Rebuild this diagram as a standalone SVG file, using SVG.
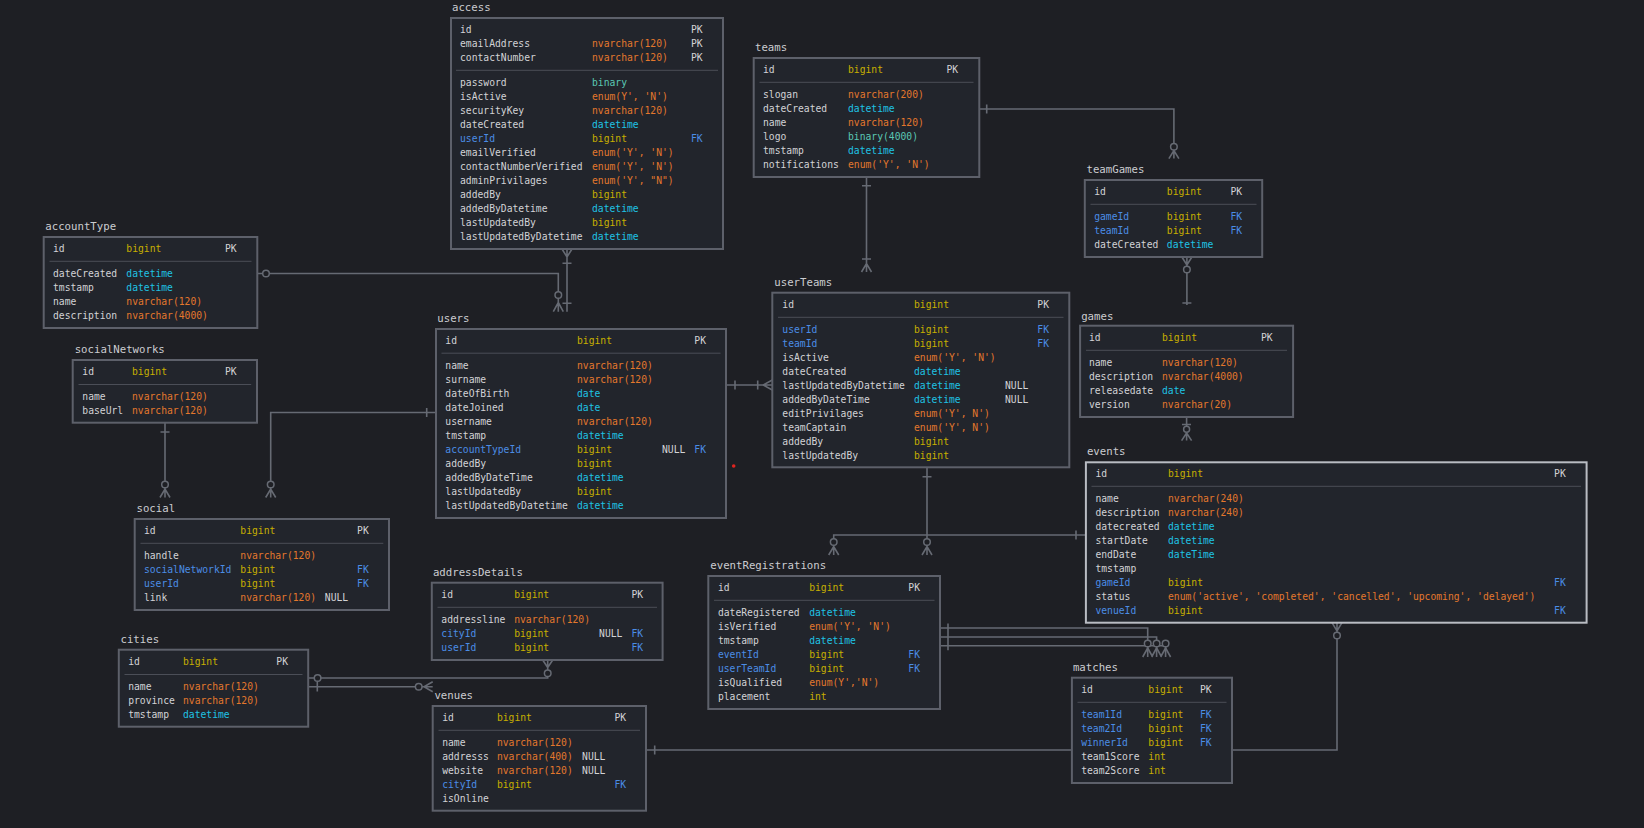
<svg xmlns="http://www.w3.org/2000/svg" width="1644" height="828" viewBox="0 0 1644 828">
<style>
text { font-family: "DejaVu Sans Mono", "Liberation Mono", monospace; font-size: 9.7px; }
.ttl { font-size: 10.7px; fill: #cbccd0; }
.n { fill: #d2d3d6; }
.fk { fill: #4b8de6; }
.ib { fill: #c8b000; }
.is { fill: #e4782c; }
.id { fill: #1fc3e4; }
.ibin { fill: #5ac8b4; }
.box { fill: #22252c; stroke: #5d606a; stroke-width: 2; }
.sel { stroke: #b9bcc3; }
.sep { stroke: #4b4e57; stroke-width: 1; }
.c { fill: none; stroke: #666a73; stroke-width: 1.6; }
.o { fill: #1e1f24; stroke: #666a73; stroke-width: 1.5; }
</style>
<rect width="1644" height="828" fill="#1e1f24"/>

<g id="connectors">
  <!-- access.userId -> users -->
  <path class="c" d="M567,249 V311.7 M562,249 L567,257 L572,249 M562.5,263.3 H571.5 M562.5,303.3 H571.5"/>
  <!-- accountType -> users -->
  <path class="c" d="M257.3,273.5 H558.3 V311.7 M553.3,311.7 L558.3,302.5 L563.3,311.7"/>
  <circle class="o" cx="266" cy="273.5" r="3.3"/>
  <circle class="o" cx="558.3" cy="295" r="3.3"/>
  <!-- users -> userTeams -->
  <path class="c" d="M726,385 H772.3 M735,380.5 V389.5 M757.7,380.5 V389.5 M772.3,380 L763,385 L772.3,390"/>
  <!-- users -> social -->
  <path class="c" d="M436,412.5 H270.7 V497.5 M426.7,408 V417 M265.7,497.5 L270.7,489 L275.7,497.5"/>
  <circle class="o" cx="270.7" cy="484.5" r="3.3"/>
  <!-- socialNetworks -> social -->
  <path class="c" d="M165,422.7 V497.5 M160.5,432 H169.5 M160,497.5 L165,489 L170,497.5"/>
  <circle class="o" cx="165" cy="484.5" r="3.3"/>
  <!-- teams -> teamGames -->
  <path class="c" d="M979.3,109 H1173.9 V158.6 M986.7,104.5 V113.5 M1168.9,158.6 L1173.9,150.5 L1178.9,158.6"/>
  <circle class="o" cx="1173.9" cy="146.7" r="3.3"/>
  <!-- teams -> userTeams -->
  <path class="c" d="M866.5,177 V272 M862,185.7 H871 M862,259 H871 M861.5,272 L866.5,263.5 L871.5,272"/>
  <!-- teamGames -> games -->
  <path class="c" d="M1186.9,257 V305 M1181.9,257 L1186.9,265 L1191.9,257 M1182.4,303 H1191.4"/>
  <circle class="o" cx="1186.9" cy="269.5" r="3.3"/>
  <!-- games -> events -->
  <path class="c" d="M1186.6,417 V440.6 M1182,424.5 H1191 M1181.6,440.6 L1186.6,433 L1191.6,440.6"/>
  <circle class="o" cx="1186.6" cy="429.3" r="3"/>
  <!-- userTeams -> eventRegistrations -->
  <path class="c" d="M927,467.3 V555 M922.5,476.7 H931.5 M922,555 L927,546.5 L932,555"/>
  <circle class="o" cx="927" cy="542" r="3.3"/>
  <!-- events -> eventRegistrations -->
  <path class="c" d="M1085.9,535 H833.7 V555 M1076,530.5 V539.5 M828.7,555 L833.7,546.5 L838.7,555"/>
  <circle class="o" cx="833.7" cy="542" r="3.3"/>
  <!-- eventRegistrations -> matches (team1Id, team2Id, winnerId) -->
  <path class="c" d="M940,628 H1147.7 V657 M940,637 H1156.6 V657 M940,645.7 H1165.6 V657 M948,623.5 V650.2"/>
  <path class="c" d="M1142.7,657 L1147.7,648 L1152.7,657 M1151.6,657 L1156.6,648 L1161.6,657 M1160.6,657 L1165.6,648 L1170.6,657"/>
  <circle class="o" cx="1147.7" cy="643.5" r="3.3"/>
  <circle class="o" cx="1156.6" cy="643.5" r="3.3"/>
  <circle class="o" cx="1165.6" cy="643.5" r="3.3"/>
  <!-- venues -> events -->
  <path class="c" d="M646,750 H1337 V622.7 M654.7,745.5 V754.5 M1332,622.7 L1337,631 L1342,622.7"/>
  <circle class="o" cx="1337" cy="635.5" r="3.3"/>
  <!-- cities -> addressDetails -->
  <path class="c" d="M308.2,678 H547.7 V660 M542.7,660 L547.7,667.5 L552.7,660"/>
  <circle class="o" cx="317.6" cy="678" r="3.3"/>
  <circle class="o" cx="547.7" cy="673.3" r="3.3"/>
  <!-- cities -> venues -->
  <path class="c" d="M308.2,686.7 H432.7 M317.3,682 V691.5 M432.7,681.7 L424,686.7 L432.7,691.7"/>
  <circle class="o" cx="418.7" cy="686.7" r="3.3"/>
  <circle cx="733.7" cy="466" r="1.8" fill="#e0241f"/>
</g>

<g id="access">
  <text class="ttl" x="452" y="11">access</text>
  <rect class="box" x="451" y="18" width="272" height="231"/>
  <line class="sep" x1="456" y1="70.3" x2="718" y2="70.3"/>
  <text class="n" x="460" y="32.8">id</text><text class="n" x="691" y="32.8">PK</text>
  <text class="n" x="460" y="46.8">emailAddress</text><text class="is" x="592" y="46.8">nvarchar(120)</text><text class="n" x="691" y="46.8">PK</text>
  <text class="n" x="460" y="60.8">contactNumber</text><text class="is" x="592" y="60.8">nvarchar(120)</text><text class="n" x="691" y="60.8">PK</text>
  <text class="n" x="460" y="85.8">password</text><text class="ibin" x="592" y="85.8">binary</text>
  <text class="n" x="460" y="99.8">isActive</text><text class="is" x="592" y="99.8">enum(Y', 'N')</text>
  <text class="n" x="460" y="113.8">securityKey</text><text class="is" x="592" y="113.8">nvarchar(120)</text>
  <text class="n" x="460" y="127.8">dateCreated</text><text class="id" x="592" y="127.8">datetime</text>
  <text class="fk" x="460" y="141.8">userId</text><text class="ib" x="592" y="141.8">bigint</text><text class="fk" x="691" y="141.8">FK</text>
  <text class="n" x="460" y="155.8">emailVerified</text><text class="is" x="592" y="155.8">enum('Y', 'N')</text>
  <text class="n" x="460" y="169.8">contactNumberVerified</text><text class="is" x="592" y="169.8">enum('Y', 'N')</text>
  <text class="n" x="460" y="183.8">adminPrivilages</text><text class="is" x="592" y="183.8">enum('Y', "N")</text>
  <text class="n" x="460" y="197.8">addedBy</text><text class="ib" x="592" y="197.8">bigint</text>
  <text class="n" x="460" y="211.8">addedByDatetime</text><text class="id" x="592" y="211.8">datetime</text>
  <text class="n" x="460" y="225.8">lastUpdatedBy</text><text class="ib" x="592" y="225.8">bigint</text>
  <text class="n" x="460" y="239.8">lastUpdatedByDatetime</text><text class="id" x="592" y="239.8">datetime</text>
</g>

<g id="teams">
  <text class="ttl" x="755" y="51.1">teams</text>
  <rect class="box" x="753.7" y="58" width="225.6" height="119"/>
  <line class="sep" x1="759.5" y1="82.3" x2="973.5" y2="82.3"/>
  <text class="n" x="763" y="72.8">id</text><text class="ib" x="848" y="72.8">bigint</text><text class="n" x="946.5" y="72.8">PK</text>
  <text class="n" x="763" y="97.8">slogan</text><text class="is" x="848" y="97.8">nvarchar(200)</text>
  <text class="n" x="763" y="111.8">dateCreated</text><text class="id" x="848" y="111.8">datetime</text>
  <text class="n" x="763" y="125.8">name</text><text class="is" x="848" y="125.8">nvarchar(120)</text>
  <text class="n" x="763" y="139.8">logo</text><text class="ibin" x="848" y="139.8">binary(4000)</text>
  <text class="n" x="763" y="153.8">tmstamp</text><text class="id" x="848" y="153.8">datetime</text>
  <text class="n" x="763" y="167.8">notifications</text><text class="is" x="848" y="167.8">enum('Y', 'N')</text>
</g>

<g id="teamGames">
  <text class="ttl" x="1086.5" y="173.1">teamGames</text>
  <rect class="box" x="1084.8" y="180" width="177.4" height="77"/>
  <line class="sep" x1="1090.5" y1="204.3" x2="1256.5" y2="204.3"/>
  <text class="n" x="1094.2" y="194.8">id</text><text class="ib" x="1166.8" y="194.8">bigint</text><text class="n" x="1230.4" y="194.8">PK</text>
  <text class="fk" x="1094.2" y="219.8">gameId</text><text class="ib" x="1166.8" y="219.8">bigint</text><text class="fk" x="1230.4" y="219.8">FK</text>
  <text class="fk" x="1094.2" y="233.8">teamId</text><text class="ib" x="1166.8" y="233.8">bigint</text><text class="fk" x="1230.4" y="233.8">FK</text>
  <text class="n" x="1094.2" y="247.8">dateCreated</text><text class="id" x="1166.8" y="247.8">datetime</text>
</g>

<g id="accountType">
  <text class="ttl" x="45.3" y="229.8">accountType</text>
  <rect class="box" x="43.7" y="237" width="213.6" height="91"/>
  <line class="sep" x1="49.5" y1="261.3" x2="251.5" y2="261.3"/>
  <text class="n" x="53" y="251.8">id</text><text class="ib" x="126.3" y="251.8">bigint</text><text class="n" x="225" y="251.8">PK</text>
  <text class="n" x="53" y="276.8">dateCreated</text><text class="id" x="126.3" y="276.8">datetime</text>
  <text class="n" x="53" y="290.8">tmstamp</text><text class="id" x="126.3" y="290.8">datetime</text>
  <text class="n" x="53" y="304.8">name</text><text class="is" x="126.3" y="304.8">nvarchar(120)</text>
  <text class="n" x="53" y="318.8">description</text><text class="is" x="126.3" y="318.8">nvarchar(4000)</text>
</g>

<g id="socialNetworks">
  <text class="ttl" x="74.7" y="352.8">socialNetworks</text>
  <rect class="box" x="72.7" y="360" width="184.3" height="62.7"/>
  <line class="sep" x1="78.5" y1="384.5" x2="251.2" y2="384.5"/>
  <text class="n" x="82.3" y="375.2">id</text><text class="ib" x="132" y="375.2">bigint</text><text class="n" x="225" y="375.2">PK</text>
  <text class="n" x="82.3" y="400.2">name</text><text class="is" x="132" y="400.2">nvarchar(120)</text>
  <text class="n" x="82.3" y="414.2">baseUrl</text><text class="is" x="132" y="414.2">nvarchar(120)</text>
</g>

<g id="users">
  <text class="ttl" x="437.3" y="322.1">users</text>
  <rect class="box" x="436" y="329" width="290" height="189"/>
  <line class="sep" x1="441.5" y1="353.2" x2="720.5" y2="353.2"/>
  <text class="n" x="445.3" y="343.8">id</text><text class="ib" x="577" y="343.8">bigint</text><text class="n" x="694.3" y="343.8">PK</text>
  <text class="n" x="445.3" y="368.8">name</text><text class="is" x="577" y="368.8">nvarchar(120)</text>
  <text class="n" x="445.3" y="382.8">surname</text><text class="is" x="577" y="382.8">nvarchar(120)</text>
  <text class="n" x="445.3" y="396.8">dateOfBirth</text><text class="id" x="577" y="396.8">date</text>
  <text class="n" x="445.3" y="410.8">dateJoined</text><text class="id" x="577" y="410.8">date</text>
  <text class="n" x="445.3" y="424.8">username</text><text class="is" x="577" y="424.8">nvarchar(120)</text>
  <text class="n" x="445.3" y="438.8">tmstamp</text><text class="id" x="577" y="438.8">datetime</text>
  <text class="fk" x="445.3" y="452.8">accountTypeId</text><text class="ib" x="577" y="452.8">bigint</text><text class="n" x="662" y="452.8">NULL</text><text class="fk" x="694.3" y="452.8">FK</text>
  <text class="n" x="445.3" y="466.8">addedBy</text><text class="ib" x="577" y="466.8">bigint</text>
  <text class="n" x="445.3" y="480.8">addedByDateTime</text><text class="id" x="577" y="480.8">datetime</text>
  <text class="n" x="445.3" y="494.8">lastUpdatedBy</text><text class="ib" x="577" y="494.8">bigint</text>
  <text class="n" x="445.3" y="508.8">lastUpdatedByDatetime</text><text class="id" x="577" y="508.8">datetime</text>
</g>

<g id="userTeams">
  <text class="ttl" x="774.3" y="286.1">userTeams</text>
  <rect class="box" x="772.3" y="292.7" width="297" height="174.6"/>
  <line class="sep" x1="778" y1="317.3" x2="1063.5" y2="317.3"/>
  <text class="n" x="782.3" y="307.8">id</text><text class="ib" x="914" y="307.8">bigint</text><text class="n" x="1037.3" y="307.8">PK</text>
  <text class="fk" x="782.3" y="332.8">userId</text><text class="ib" x="914" y="332.8">bigint</text><text class="fk" x="1037.3" y="332.8">FK</text>
  <text class="fk" x="782.3" y="346.8">teamId</text><text class="ib" x="914" y="346.8">bigint</text><text class="fk" x="1037.3" y="346.8">FK</text>
  <text class="n" x="782.3" y="360.8">isActive</text><text class="is" x="914" y="360.8">enum('Y', 'N')</text>
  <text class="n" x="782.3" y="374.8">dateCreated</text><text class="id" x="914" y="374.8">datetime</text>
  <text class="n" x="782.3" y="388.8">lastUpdatedByDatetime</text><text class="id" x="914" y="388.8">datetime</text><text class="n" x="1005" y="388.8">NULL</text>
  <text class="n" x="782.3" y="402.8">addedByDateTime</text><text class="id" x="914" y="402.8">datetime</text><text class="n" x="1005" y="402.8">NULL</text>
  <text class="n" x="782.3" y="416.8">editPrivilages</text><text class="is" x="914" y="416.8">enum('Y', N')</text>
  <text class="n" x="782.3" y="430.8">teamCaptain</text><text class="is" x="914" y="430.8">enum('Y', N')</text>
  <text class="n" x="782.3" y="444.8">addedBy</text><text class="ib" x="914" y="444.8">bigint</text>
  <text class="n" x="782.3" y="458.8">lastUpdatedBy</text><text class="ib" x="914" y="458.8">bigint</text>
</g>

<g id="games">
  <text class="ttl" x="1081.2" y="319.5">games</text>
  <rect class="box" x="1080.1" y="325.7" width="213" height="91.3"/>
  <line class="sep" x1="1086" y1="350.3" x2="1287" y2="350.3"/>
  <text class="n" x="1088.9" y="340.8">id</text><text class="ib" x="1162" y="340.8">bigint</text><text class="n" x="1261" y="340.8">PK</text>
  <text class="n" x="1088.9" y="365.8">name</text><text class="is" x="1162" y="365.8">nvarchar(120)</text>
  <text class="n" x="1088.9" y="379.8">description</text><text class="is" x="1162" y="379.8">nvarchar(4000)</text>
  <text class="n" x="1088.9" y="393.8">releasedate</text><text class="id" x="1162" y="393.8">date</text>
  <text class="n" x="1088.9" y="407.8">version</text><text class="is" x="1162" y="407.8">nvarchar(20)</text>
</g>

<g id="events">
  <text class="ttl" x="1086.9" y="455.1">events</text>
  <rect class="box sel" x="1085.9" y="462.3" width="500.7" height="160.4"/>
  <line class="sep" x1="1091.5" y1="486.3" x2="1581" y2="486.3"/>
  <text class="n" x="1095.4" y="476.8">id</text><text class="ib" x="1168" y="476.8">bigint</text><text class="n" x="1554.1" y="476.8">PK</text>
  <text class="n" x="1095.4" y="501.8">name</text><text class="is" x="1168" y="501.8">nvarchar(240)</text>
  <text class="n" x="1095.4" y="515.8">description</text><text class="is" x="1168" y="515.8">nvarchar(240)</text>
  <text class="n" x="1095.4" y="529.8">datecreated</text><text class="id" x="1168" y="529.8">datetime</text>
  <text class="n" x="1095.4" y="543.8">startDate</text><text class="id" x="1168" y="543.8">datetime</text>
  <text class="n" x="1095.4" y="557.8">endDate</text><text class="id" x="1168" y="557.8">dateTime</text>
  <text class="n" x="1095.4" y="571.8">tmstamp</text>
  <text class="fk" x="1095.4" y="585.8">gameId</text><text class="ib" x="1168" y="585.8">bigint</text><text class="fk" x="1554.1" y="585.8">FK</text>
  <text class="n" x="1095.4" y="599.8">status</text><text class="is" x="1168" y="599.8">enum('active', 'completed', 'cancelled', 'upcoming', 'delayed')</text>
  <text class="fk" x="1095.4" y="613.8">venueId</text><text class="ib" x="1168" y="613.8">bigint</text><text class="fk" x="1554.1" y="613.8">FK</text>
</g>

<g id="social">
  <text class="ttl" x="136.5" y="512.1">social</text>
  <rect class="box" x="134.7" y="519" width="254.3" height="91"/>
  <line class="sep" x1="140.5" y1="543.3" x2="383.3" y2="543.3"/>
  <text class="n" x="143.9" y="533.8">id</text><text class="ib" x="240.3" y="533.8">bigint</text><text class="n" x="357.1" y="533.8">PK</text>
  <text class="n" x="143.9" y="558.8">handle</text><text class="is" x="240.3" y="558.8">nvarchar(120)</text>
  <text class="fk" x="143.9" y="572.8">socialNetworkId</text><text class="ib" x="240.3" y="572.8">bigint</text><text class="fk" x="357.1" y="572.8">FK</text>
  <text class="fk" x="143.9" y="586.8">userId</text><text class="ib" x="240.3" y="586.8">bigint</text><text class="fk" x="357.1" y="586.8">FK</text>
  <text class="n" x="143.9" y="600.8">link</text><text class="is" x="240.3" y="600.8">nvarchar(120)</text><text class="n" x="324.8" y="600.8">NULL</text>
</g>

<g id="addressDetails">
  <text class="ttl" x="432.9" y="575.8">addressDetails</text>
  <rect class="box" x="431.8" y="582.7" width="230.8" height="77.3"/>
  <line class="sep" x1="437.5" y1="607.3" x2="657" y2="607.3"/>
  <text class="n" x="441.3" y="597.8">id</text><text class="ib" x="514.2" y="597.8">bigint</text><text class="n" x="631.4" y="597.8">PK</text>
  <text class="n" x="441.3" y="622.8">addressline</text><text class="is" x="514.2" y="622.8">nvarchar(120)</text>
  <text class="fk" x="441.3" y="636.8">cityId</text><text class="ib" x="514.2" y="636.8">bigint</text><text class="n" x="599.1" y="636.8">NULL</text><text class="fk" x="631.4" y="636.8">FK</text>
  <text class="fk" x="441.3" y="650.8">userId</text><text class="ib" x="514.2" y="650.8">bigint</text><text class="fk" x="631.4" y="650.8">FK</text>
</g>

<g id="cities">
  <text class="ttl" x="120.5" y="643.1">cities</text>
  <rect class="box" x="118.8" y="649.7" width="189.4" height="77"/>
  <line class="sep" x1="124.5" y1="674.5" x2="302.5" y2="674.5"/>
  <text class="n" x="128.2" y="665.2">id</text><text class="ib" x="183" y="665.2">bigint</text><text class="n" x="276.3" y="665.2">PK</text>
  <text class="n" x="128.2" y="690.2">name</text><text class="is" x="183" y="690.2">nvarchar(120)</text>
  <text class="n" x="128.2" y="704.2">province</text><text class="is" x="183" y="704.2">nvarchar(120)</text>
  <text class="n" x="128.2" y="718.2">tmstamp</text><text class="id" x="183" y="718.2">datetime</text>
</g>

<g id="venues">
  <text class="ttl" x="434.4" y="699.1">venues</text>
  <rect class="box" x="432.7" y="706" width="213.3" height="104.7"/>
  <line class="sep" x1="438.5" y1="730.3" x2="640" y2="730.3"/>
  <text class="n" x="442.2" y="720.8">id</text><text class="ib" x="496.9" y="720.8">bigint</text><text class="n" x="614.4" y="720.8">PK</text>
  <text class="n" x="442.2" y="746.2">name</text><text class="is" x="496.9" y="746.2">nvarchar(120)</text>
  <text class="n" x="442.2" y="760.2">addresss</text><text class="is" x="496.9" y="760.2">nvarchar(400)</text><text class="n" x="582.1" y="760.2">NULL</text>
  <text class="n" x="442.2" y="774.2">website</text><text class="is" x="496.9" y="774.2">nvarchar(120)</text><text class="n" x="582.1" y="774.2">NULL</text>
  <text class="fk" x="442.2" y="788.2">cityId</text><text class="ib" x="496.9" y="788.2">bigint</text><text class="fk" x="614.4" y="788.2">FK</text>
  <text class="n" x="442.2" y="802.2">isOnline</text>
</g>

<g id="eventRegistrations">
  <text class="ttl" x="710.3" y="568.8">eventRegistrations</text>
  <rect class="box" x="708.3" y="576" width="231.7" height="133"/>
  <line class="sep" x1="714" y1="600.3" x2="934.5" y2="600.3"/>
  <text class="n" x="717.9" y="590.8">id</text><text class="ib" x="809.2" y="590.8">bigint</text><text class="n" x="908.3" y="590.8">PK</text>
  <text class="n" x="717.9" y="615.8">dateRegistered</text><text class="id" x="809.2" y="615.8">datetime</text>
  <text class="n" x="717.9" y="629.8">isVerified</text><text class="is" x="809.2" y="629.8">enum('Y', 'N')</text>
  <text class="n" x="717.9" y="643.8">tmstamp</text><text class="id" x="809.2" y="643.8">datetime</text>
  <text class="fk" x="717.9" y="657.8">eventId</text><text class="ib" x="809.2" y="657.8">bigint</text><text class="fk" x="908.3" y="657.8">FK</text>
  <text class="fk" x="717.9" y="671.8">userTeamId</text><text class="ib" x="809.2" y="671.8">bigint</text><text class="fk" x="908.3" y="671.8">FK</text>
  <text class="n" x="717.9" y="685.8">isQualified</text><text class="is" x="809.2" y="685.8">enum(Y','N')</text>
  <text class="n" x="717.9" y="699.8">placement</text><text class="ib" x="809.2" y="699.8">int</text>
</g>

<g id="matches">
  <text class="ttl" x="1072.9" y="671.1">matches</text>
  <rect class="box" x="1071.9" y="677.7" width="160.1" height="105.3"/>
  <line class="sep" x1="1077.5" y1="702.3" x2="1226.5" y2="702.3"/>
  <text class="n" x="1081.2" y="692.8">id</text><text class="ib" x="1148.3" y="692.8">bigint</text><text class="n" x="1200" y="692.8">PK</text>
  <text class="fk" x="1081.2" y="717.8">team1Id</text><text class="ib" x="1148.3" y="717.8">bigint</text><text class="fk" x="1200" y="717.8">FK</text>
  <text class="fk" x="1081.2" y="731.8">team2Id</text><text class="ib" x="1148.3" y="731.8">bigint</text><text class="fk" x="1200" y="731.8">FK</text>
  <text class="fk" x="1081.2" y="745.8">winnerId</text><text class="ib" x="1148.3" y="745.8">bigint</text><text class="fk" x="1200" y="745.8">FK</text>
  <text class="n" x="1081.2" y="759.8">team1Score</text><text class="ib" x="1148.3" y="759.8">int</text>
  <text class="n" x="1081.2" y="773.8">team2Score</text><text class="ib" x="1148.3" y="773.8">int</text>
</g>
</svg>
